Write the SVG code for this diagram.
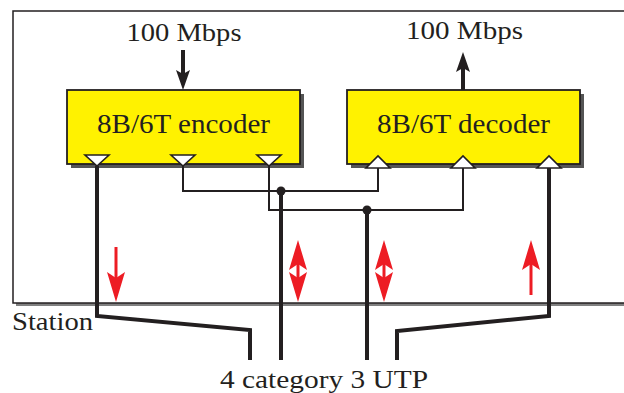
<svg xmlns="http://www.w3.org/2000/svg" width="624" height="393" viewBox="0 0 624 393">
<style>
.lbl{font-family:"Liberation Serif","Times New Roman",serif;fill:#231F20}
.box{fill:#FFF200;stroke:#231F20;stroke-width:1.8}
.shadow{fill:#555}
.tri{fill:#fff;stroke:#231F20;stroke-width:1.6;stroke-linejoin:miter}
.thin{fill:none;stroke:#231F20;stroke-width:2}
.thick{fill:none;stroke:#231F20;stroke-width:4}
.red{fill:none;stroke:#ED1C24;stroke-width:3}
</style>
<defs>
<marker id="bh" markerUnits="userSpaceOnUse" viewBox="0 0 20 14" markerWidth="20" markerHeight="14" refX="8" refY="7" orient="auto-start-reverse"><path d="M0,0 L20,7 L0,14 L4,7 z" fill="#231F20"/></marker>
<marker id="rh" markerUnits="userSpaceOnUse" viewBox="0 0 30 18" markerWidth="30" markerHeight="18" refX="18" refY="9" orient="auto-start-reverse"><path d="M0,0 L30,9 L0,18 L6,9 z" fill="#ED1C24"/></marker>
</defs>
<g id="station">
<rect x="16" y="14" width="640" height="292" fill="#808080"/>
<rect x="13" y="11" width="640" height="292" fill="#fff" stroke="#231F20" stroke-width="1.5"/>
<text class="lbl" x="12" y="330" font-size="25" textLength="81" lengthAdjust="spacingAndGlyphs">Station</text>
</g>
<g id="encoder">
<rect class="shadow" x="71" y="94" width="233" height="74"/>
<rect class="box" x="67" y="90" width="233" height="74"/>
<text class="lbl" x="183.5" y="133" font-size="27" text-anchor="middle" textLength="173" lengthAdjust="spacingAndGlyphs">8B/6T encoder</text>
<polygon class="tri" points="85,155 109,155 97,166"/>
<polygon class="tri" points="171,155 195,155 183,166"/>
<polygon class="tri" points="257,155 281,155 269,166"/>
</g>
<g id="decoder">
<rect class="shadow" x="351" y="94" width="233" height="74"/>
<rect class="box" x="347" y="90" width="233" height="74"/>
<text class="lbl" x="463.5" y="133" font-size="27" text-anchor="middle" textLength="173" lengthAdjust="spacingAndGlyphs">8B/6T decoder</text>
<polygon class="tri" points="366,168 390,168 378,156"/>
<polygon class="tri" points="451,168 475,168 463,156"/>
<polygon class="tri" points="537,168 561,168 549,156"/>
</g>
<g id="input">
<text class="lbl" x="184" y="41" font-size="26" text-anchor="middle" textLength="115" lengthAdjust="spacingAndGlyphs">100 Mbps</text>
</g>
<g id="output">
<text class="lbl" x="464.5" y="39" font-size="26" text-anchor="middle" textLength="117" lengthAdjust="spacingAndGlyphs">100 Mbps</text>
</g>
<g id="utp">
<text class="lbl" x="324" y="388" font-size="26" text-anchor="middle" textLength="208" lengthAdjust="spacingAndGlyphs">4 category 3 UTP</text>
</g>
<g id="connectors">
<line class="thick" x1="183" y1="50" x2="183" y2="78" marker-end="url(#bh)"/>
<line class="thick" x1="463" y1="90" x2="463" y2="64" marker-end="url(#bh)"/>
<polyline class="thin" points="183,166 183,191 378,191 378,168"/>
<polyline class="thin" points="269,166 269,210 463,210 463,168"/>
<polyline class="thick" points="97,166 97,316 250,330 250,360"/>
<polyline class="thick" points="549,168 549,316 397,331 397,360"/>
<line class="thick" x1="281" y1="191" x2="281" y2="360"/>
<line class="thick" x1="367" y1="210" x2="367" y2="360"/>
<circle cx="281" cy="191" r="4.5" fill="#231F20"/>
<circle cx="367" cy="210" r="4.5" fill="#231F20"/>
<line class="red" x1="116" y1="247" x2="116" y2="290" marker-end="url(#rh)"/>
<line class="red" x1="298" y1="252" x2="298" y2="290" marker-start="url(#rh)" marker-end="url(#rh)"/>
<line class="red" x1="384" y1="252" x2="384" y2="290" marker-start="url(#rh)" marker-end="url(#rh)"/>
<line class="red" x1="531" y1="295" x2="531" y2="252" marker-end="url(#rh)"/>
</g>
</svg>
